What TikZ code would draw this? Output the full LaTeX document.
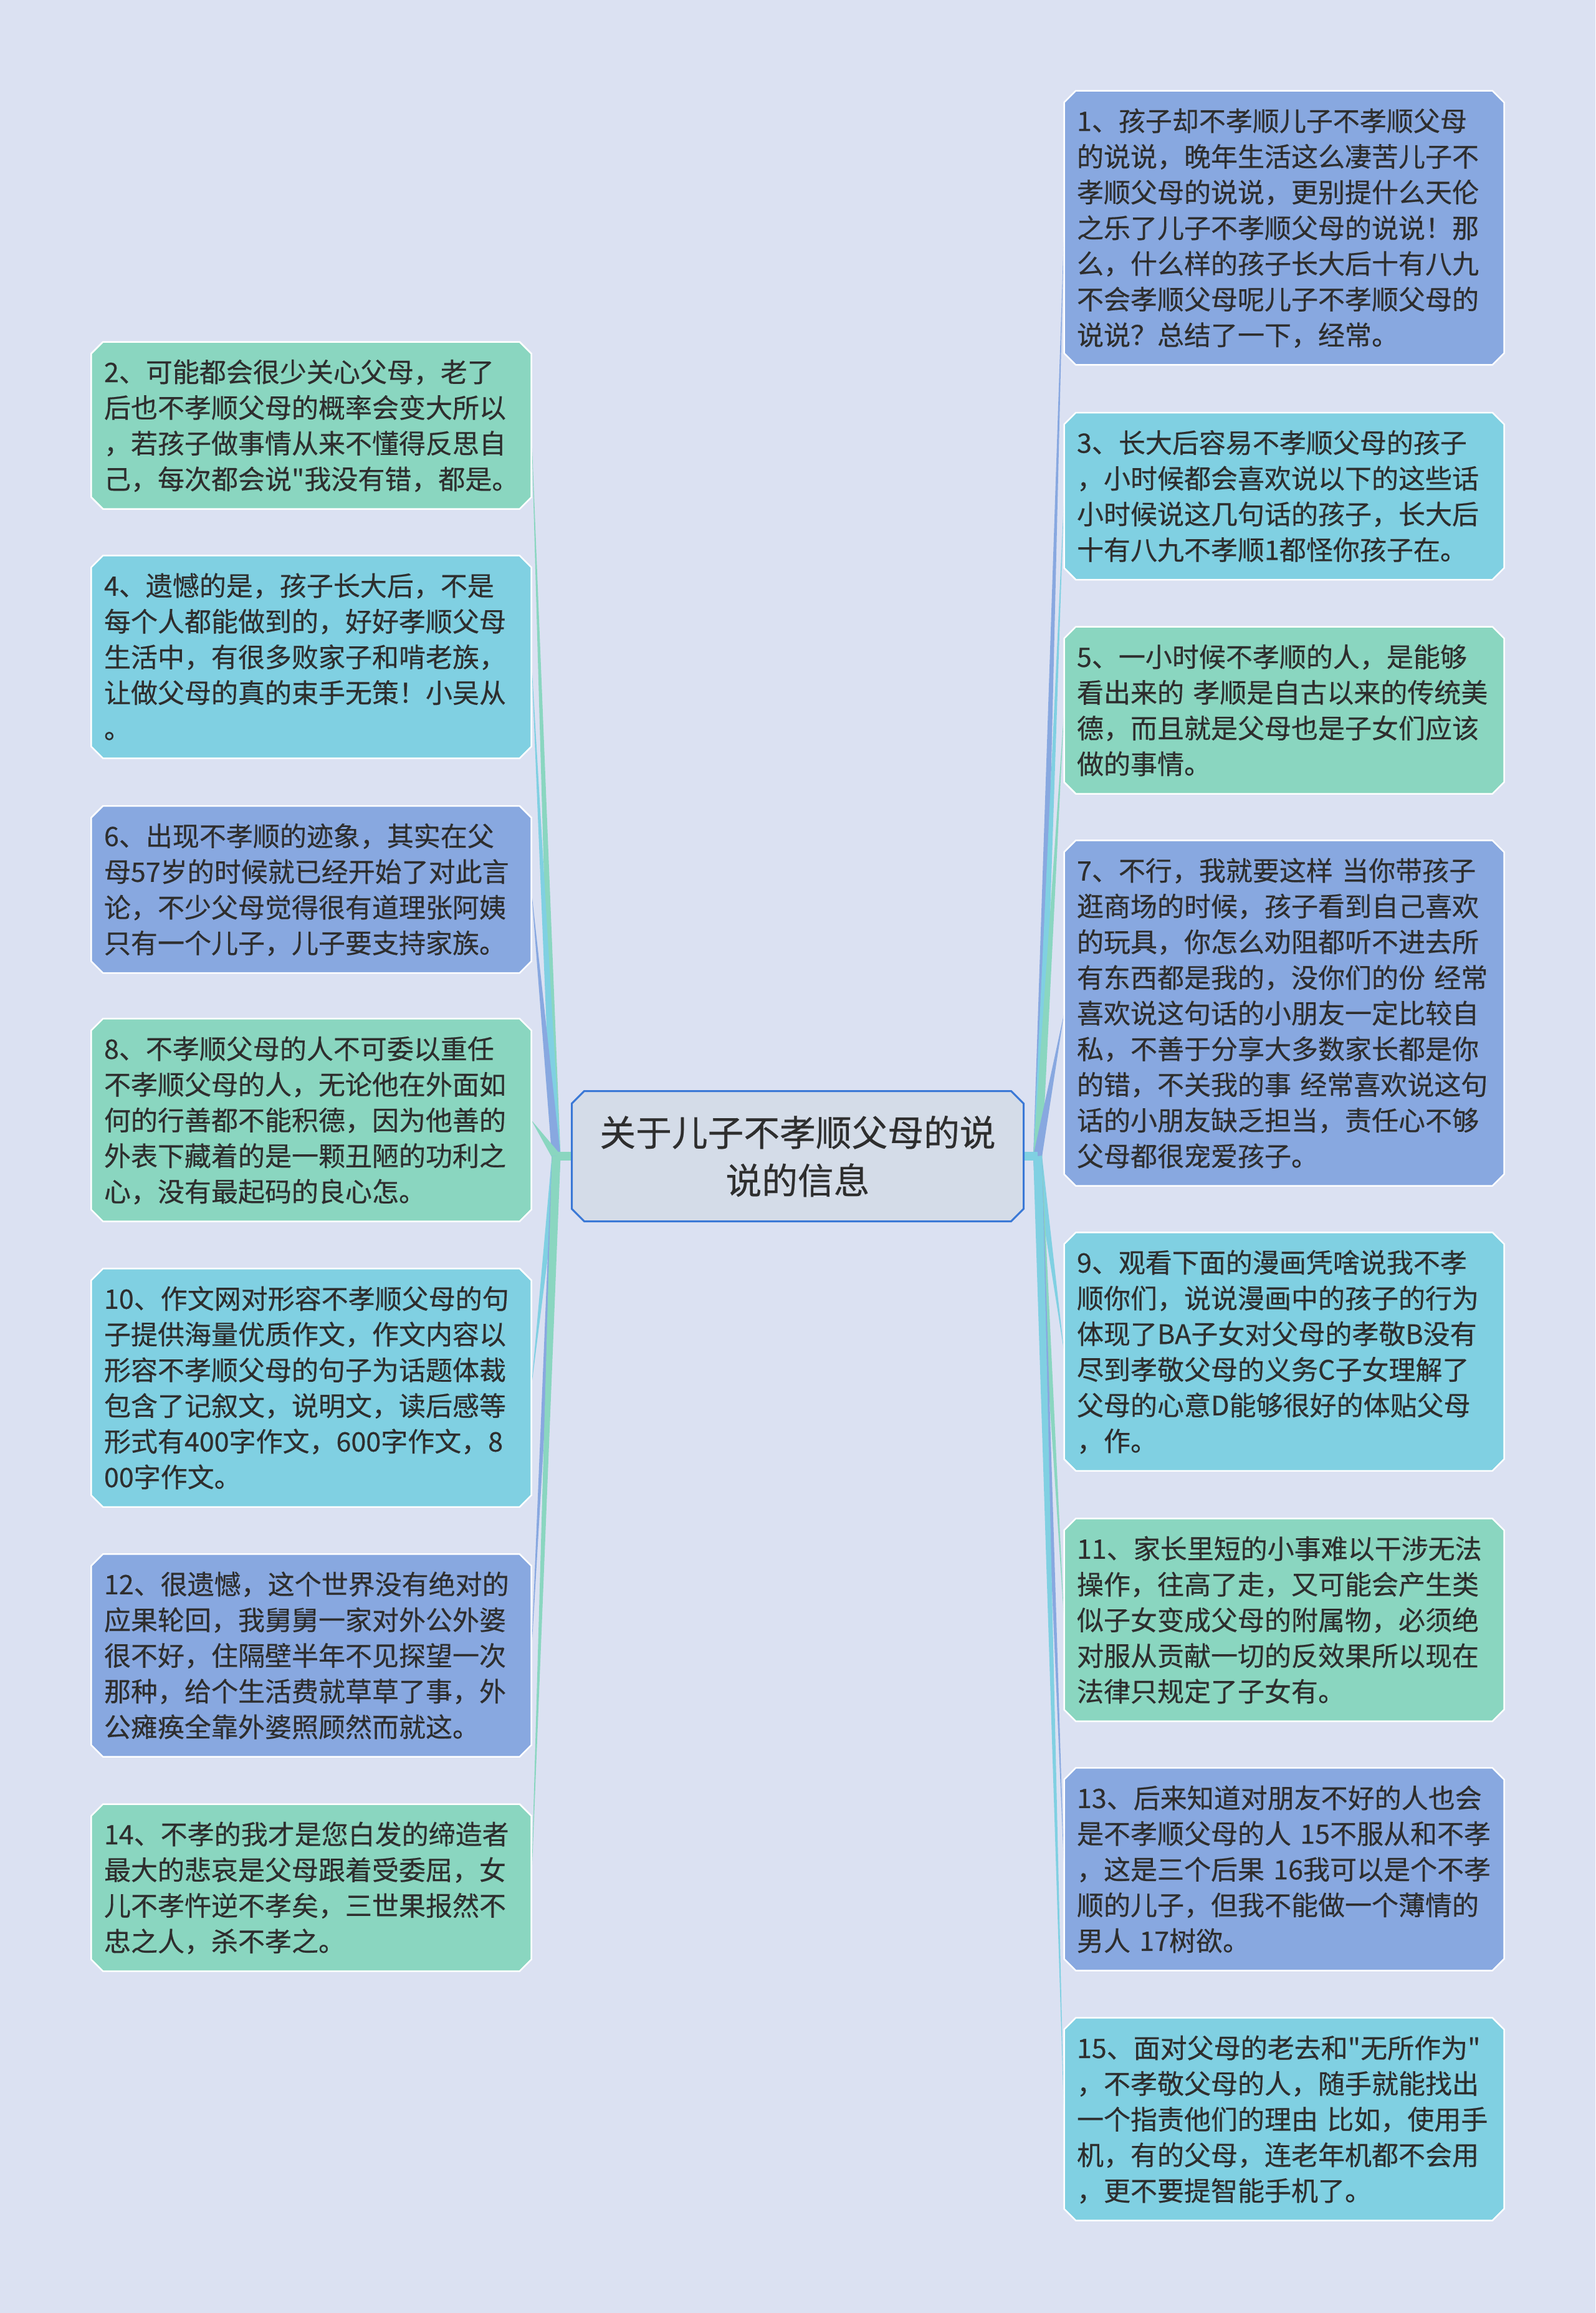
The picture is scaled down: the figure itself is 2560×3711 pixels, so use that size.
\documentclass[tikz,border=0pt]{standalone}
\usepackage{fontspec}
\newfontfamily\cjk[FakeBold=0.4]{Noto Sans CJK SC}
\usetikzlibrary{calc,backgrounds}
\definecolor{bgcol}{HTML}{DBE1F2}
\definecolor{leafgreen}{HTML}{8AD6C0}
\definecolor{leafcyan}{HTML}{80D0E2}
\definecolor{leafblue}{HTML}{88A8E0}
\definecolor{rootfill}{HTML}{D4DCE8}
\definecolor{rootline}{HTML}{3A78D6}
\definecolor{txt}{HTML}{2E2E2E}
\newcommand{\lstrut}{\rule[-4.9pt]{0pt}{22.9pt}}
\newcommand{\rstrut}{\rule[-6.5pt]{0pt}{30.7pt}}
\tikzset{
  leaf/.style={rectangle, text width=266pt, align=left, inner xsep=8pt, inner ysep=7.6pt,
    text=txt, font=\cjk\fontsize{17.2}{22.9}\selectfont,
    execute at begin node=\lstrut, execute at end node=\lstrut},
  root/.style={rectangle, text width=289.6pt, align=center, inner xsep=0pt, inner ysep=10.9pt,
    text=txt, font=\cjk\fontsize{23.1}{30.7}\selectfont,
    execute at begin node=\rstrut, execute at end node=\rstrut},
}
\begin{document}
\begin{tikzpicture}[x=0.4pt,y=-0.4pt]
		% centre
		\node[root] (root) at (1280,1855) {关于儿子不孝顺父母的说\\说的信息};
		\coordinate (lhub) at ([xshift=-10pt]root.west);
		\coordinate (rhub) at ([xshift=9pt]root.east);
		% right side
		\node[leaf] (n1) at (2060.5,365.5) {1、孩子却不孝顺儿子不孝顺父母\\的说说，晚年生活这么凄苦儿子不\\孝顺父母的说说，更别提什么天伦\\之乐了儿子不孝顺父母的说说！那\\么，什么样的孩子长大后十有八九\\不会孝顺父母呢儿子不孝顺父母的\\说说？总结了一下，经常。};
		\node[leaf] (n3) at (2060.5,796) {3、长大后容易不孝顺父母的孩子\\，小时候都会喜欢说以下的这些话\\小时候说这几句话的孩子，长大后\\十有八九不孝顺1都怪你孩子在。};
		\node[leaf] (n5) at (2060.5,1139.5) {5、一小时候不孝顺的人，是能够\\看出来的~孝顺是自古以来的传统美\\德，而且就是父母也是子女们应该\\做的事情。};
		\node[leaf] (n7) at (2060.5,1625.5) {7、不行，我就要这样~当你带孩子\\逛商场的时候，孩子看到自己喜欢\\的玩具，你怎么劝阻都听不进去所\\有东西都是我的，没你们的份~经常\\喜欢说这句话的小朋友一定比较自\\私，不善于分享大多数家长都是你\\的错，不关我的事~经常喜欢说这句\\话的小朋友缺乏担当，责任心不够\\父母都很宠爱孩子。};
		\node[leaf] (n9) at (2060.5,2168.5) {9、观看下面的漫画凭啥说我不孝\\顺你们，说说漫画中的孩子的行为\\体现了BA子女对父母的孝敬B没有\\尽到孝敬父母的义务C子女理解了\\父母的心意D能够很好的体贴父母\\，作。};
		\node[leaf] (n11) at (2060.5,2599) {11、家长里短的小事难以干涉无法\\操作，往高了走，又可能会产生类\\似子女变成父母的附属物，必须绝\\对服从贡献一切的反效果所以现在\\法律只规定了子女有。};
		\node[leaf] (n13) at (2060.5,2999) {13、后来知道对朋友不好的人也会\\是不孝顺父母的人~15不服从和不孝\\，这是三个后果~16我可以是个不孝\\顺的儿子，但我不能做一个薄情的\\男人~17树欲。};
		\node[leaf] (n15) at (2060.5,3400) {15、面对父母的老去和"无所作为"\\，不孝敬父母的人，随手就能找出\\一个指责他们的理由~比如，使用手\\机，有的父母，连老年机都不会用\\，更不要提智能手机了。};
		% left side
		\node[leaf] (n2) at (499.5,682.5) {2、可能都会很少关心父母，老了\\后也不孝顺父母的概率会变大所以\\，若孩子做事情从来不懂得反思自\\己，每次都会说"我没有错，都是。};
		\node[leaf] (n4) at (499.5,1054) {4、遗憾的是，孩子长大后，不是\\每个人都能做到的，好好孝顺父母\\生活中，有很多败家子和啃老族，\\让做父母的真的束手无策！小吴从\\。};
		\node[leaf] (n6) at (499.5,1427) {6、出现不孝顺的迹象，其实在父\\母57岁的时候就已经开始了对此言\\论，不少父母觉得很有道理张阿姨\\只有一个儿子，儿子要支持家族。};
		\node[leaf] (n8) at (499.5,1797) {8、不孝顺父母的人不可委以重任\\不孝顺父母的人，无论他在外面如\\何的行善都不能积德，因为他善的\\外表下藏着的是一颗丑陋的功利之\\心，没有最起码的良心怎。};
		\node[leaf] (n10) at (499.5,2226.5) {10、作文网对形容不孝顺父母的句\\子提供海量优质作文，作文内容以\\形容不孝顺父母的句子为话题体裁\\包含了记叙文，说明文，读后感等\\形式有400字作文，600字作文，8\\00字作文。};
		\node[leaf] (n12) at (499.5,2656) {12、很遗憾，这个世界没有绝对的\\应果轮回，我舅舅一家对外公外婆\\很不好，住隔壁半年不见探望一次\\那种，给个生活费就草草了事，外\\公瘫痪全靠外婆照顾然而就这。};
		\node[leaf] (n14) at (499.5,3028.5) {14、不孝的我才是您白发的缔造者\\最大的悲哀是父母跟着受委屈，女\\儿不孝忤逆不孝矣，三世果报然不\\忠之人，杀不孝之。};
		\begin{scope}[on background layer]
		\fill[bgcol] (0,0) rectangle (2560,3711);
		% tapered branches
		\foreach \n/\c in {n2/leafgreen,n4/leafcyan,n6/leafblue,n8/leafgreen,n10/leafcyan,n12/leafblue,n14/leafgreen}
			\fill[\c] ($(lhub)!2.8pt!90:(\n.east)$) -- (\n.east) -- ($(lhub)!2.8pt!-90:(\n.east)$) -- cycle;
		\foreach \n/\c in {n1/leafblue,n3/leafcyan,n5/leafgreen,n7/leafblue,n9/leafcyan,n11/leafgreen,n13/leafblue,n15/leafcyan}
			\fill[\c] ($(rhub)!2.8pt!90:(\n.west)$) -- (\n.west) -- ($(rhub)!2.8pt!-90:(\n.west)$) -- cycle;
		\draw[leafgreen,line width=5.6pt] (root.west) -- (lhub);
		\draw[leafcyan,line width=5.6pt] (root.east) -- (rhub);
		% boxes
		\foreach \n/\c in {n1/leafblue,n3/leafcyan,n5/leafgreen,n7/leafblue,n9/leafcyan,n11/leafgreen,n13/leafblue,n15/leafcyan,n2/leafgreen,n4/leafcyan,n6/leafblue,n8/leafgreen,n10/leafcyan,n12/leafblue,n14/leafgreen}
			\filldraw[fill=\c,draw=white,line width=1pt] ([xshift=7.5pt]\n.north west) -- ([xshift=-7.5pt]\n.north east) -- ([yshift=-7.5pt]\n.north east) -- ([yshift=7.5pt]\n.south east) -- ([xshift=-7.5pt]\n.south east) -- ([xshift=7.5pt]\n.south west) -- ([yshift=7.5pt]\n.south west) -- ([yshift=-7.5pt]\n.north west) -- cycle;
		\filldraw[fill=rootfill,draw=rootline,line width=1.2pt] ([xshift=8pt]root.north west) -- ([xshift=-8pt]root.north east) -- ([yshift=-8pt]root.north east) -- ([yshift=8pt]root.south east) -- ([xshift=-8pt]root.south east) -- ([xshift=8pt]root.south west) -- ([yshift=8pt]root.south west) -- ([yshift=-8pt]root.north west) -- cycle;
		\end{scope}
\end{tikzpicture}
\end{document}
